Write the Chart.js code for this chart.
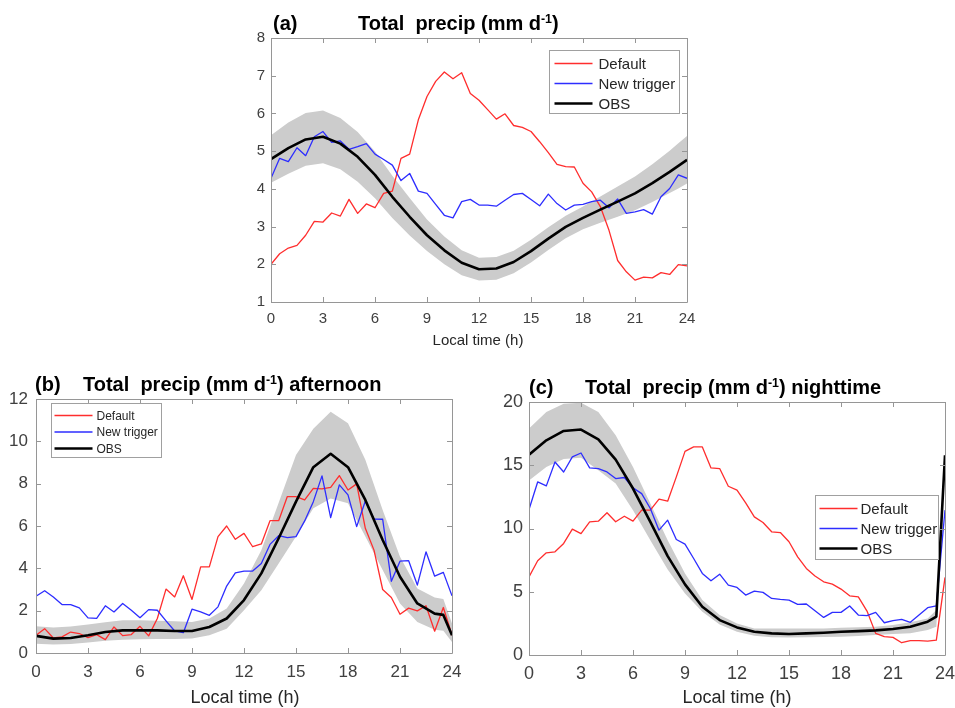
<!DOCTYPE html>
<html>
<head>
<meta charset="utf-8">
<script src="https://cdn.jsdelivr.net/npm/chart.js@4.4.1/dist/chart.umd.min.js"></script>
<style>
body { margin: 0; background: #fff; overflow: hidden; font-family: 'Liberation Sans', Arial, sans-serif; }
#fig { position: relative; width: 955px; height: 708px; }
.box { position: absolute; }
.txt { position: absolute; white-space: pre; color: #000; line-height: 1; z-index: 2; }
.ttl { font-weight: bold; }
.sup { font-size: 0.62em; position: relative; top: -0.6em; }
.xl { color: #262626; transform: translateX(-50%); }
</style>
</head>
<body>
<div id="fig">
  <div class="txt ttl" style="left:273px;top:13px;font-size:20px">(a)</div>
  <div class="txt ttl" style="left:358px;top:13px;font-size:20px">Total  precip (mm d<span class="sup">-1</span>)</div>
  <div class="txt xl" style="left:478px;top:332px;font-size:15px">Local time (h)</div>

  <div class="txt ttl" style="left:35px;top:374px;font-size:20px">(b)</div>
  <div class="txt ttl" style="left:83px;top:374px;font-size:20px">Total  precip (mm d<span class="sup">-1</span>) afternoon</div>
  <div class="txt xl" style="left:245px;top:688px;font-size:18px">Local time (h)</div>

  <div class="txt ttl" style="left:529px;top:377px;font-size:20px">(c)</div>
  <div class="txt ttl" style="left:585px;top:377px;font-size:20px">Total  precip (mm d<span class="sup">-1</span>) nighttime</div>
  <div class="txt xl" style="left:737px;top:688px;font-size:18px">Local time (h)</div>

  <div class="box" style="left:231px;top:29px;width:470px;height:323px"><canvas id="chartA"></canvas></div>
  <div class="box" style="left:0px;top:388px;width:466px;height:315px"><canvas id="chartB"></canvas></div>
  <div class="box" style="left:489px;top:391px;width:466px;height:314px"><canvas id="chartC"></canvas></div>
</div>
<script>
// model output every half hour, OBS hourly (plus 23.5)
const hours = [0, 0.5, 1, 1.5, 2, 2.5, 3, 3.5, 4, 4.5, 5, 5.5, 6, 6.5, 7, 7.5, 8, 8.5, 9, 9.5,
    10, 10.5, 11, 11.5, 12, 12.5, 13, 13.5, 14, 14.5, 15, 15.5, 16, 16.5, 17, 17.5, 18, 18.5, 19, 19.5,
    20, 20.5, 21, 21.5, 22, 22.5, 23, 23.5, 24]
const obsHours = [0, 1, 2, 3, 4, 5, 6, 7, 8, 9, 10, 11, 12, 13, 14, 15, 16, 17, 18, 19, 20, 21, 22, 23, 23.5, 24]
const legendNames = ['Default', 'New trigger', 'OBS']

// (a) total
const aDefault = [2.0, 2.28, 2.43, 2.5, 2.77, 3.14, 3.12, 3.36, 3.28, 3.72, 3.35, 3.6, 3.5, 3.88, 3.94, 4.81, 4.92, 5.83, 6.45, 6.85,
    7.1, 6.92, 7.08, 6.53, 6.35, 6.1, 5.85, 5.99, 5.68, 5.63, 5.52, 5.25, 4.96, 4.65, 4.59, 4.58, 4.15, 3.92, 3.53, 2.9,
    2.1, 1.8, 1.58, 1.66, 1.64, 1.78, 1.73, 1.99, 1.96]
const aTrigger = [4.28, 4.81, 4.72, 5.09, 4.88, 5.38, 5.52, 5.23, 5.27, 5.05, 5.12, 5.2, 4.92, 4.78, 4.63, 4.22, 4.41, 3.94, 3.88, 3.59,
    3.3, 3.23, 3.66, 3.72, 3.57, 3.57, 3.54, 3.7, 3.85, 3.88, 3.72, 3.55, 3.86, 3.61, 3.44, 3.57, 3.59, 3.66, 3.7, 3.5,
    3.73, 3.35, 3.39, 3.45, 3.33, 3.79, 4.01, 4.37, 4.28]
const aObs = [4.79, 5.08, 5.31, 5.38, 5.2, 4.85, 4.37, 3.79, 3.26, 2.77, 2.37, 2.04, 1.87, 1.89, 2.06, 2.35, 2.68, 2.99, 3.23, 3.45, 3.66, 3.88, 4.15, 4.45, 4.61, 4.77]
const aObsHi = [5.42, 5.76, 6.01, 6.08, 5.88, 5.51, 4.99, 4.35, 3.76, 3.19, 2.74, 2.37, 2.17, 2.19, 2.36, 2.65, 2.98, 3.29, 3.53, 3.8, 4.06, 4.33, 4.65, 5.01, 5.21, 5.4]
const aObsLo = [4.16, 4.4, 4.61, 4.68, 4.52, 4.19, 3.75, 3.23, 2.76, 2.35, 2.0, 1.71, 1.57, 1.59, 1.76, 2.05, 2.38, 2.69, 2.93, 3.1, 3.26, 3.43, 3.65, 3.89, 4.01, 4.14]

// (b) afternoon
const bDefault = [0.84, 1.15, 0.71, 0.76, 0.99, 0.92, 0.73, 0.87, 0.63, 1.23, 0.82, 0.87, 1.26, 0.81, 1.63, 3.02, 2.65, 3.65, 2.53, 4.07,
    4.07, 5.5, 6.0, 5.37, 5.65, 5.02, 5.15, 6.25, 6.25, 7.39, 7.39, 7.23, 7.78, 7.75, 7.83, 8.38, 7.7, 7.99, 5.89, 4.86,
    3.0, 2.62, 1.83, 2.12, 1.99, 2.23, 1.03, 2.15, 0.84]
const bTrigger = [2.68, 2.94, 2.65, 2.29, 2.29, 2.13, 1.66, 1.64, 2.23, 1.94, 2.34, 2.02, 1.67, 2.05, 2.02, 1.52, 1.04, 0.96, 2.07, 1.94,
    1.78, 2.18, 3.16, 3.79, 3.87, 3.87, 4.23, 5.13, 5.54, 5.45, 5.5, 6.24, 7.15, 8.37, 6.4, 7.94, 7.47, 5.97, 7.18, 6.33,
    6.32, 3.39, 4.34, 4.36, 3.21, 4.78, 3.63, 3.81, 2.7]
const bObs = [0.81, 0.68, 0.71, 0.84, 0.99, 1.07, 1.07, 1.07, 1.04, 1.04, 1.23, 1.63, 2.5, 3.76, 5.42, 7.15, 8.78, 9.41, 8.78, 7.23, 5.34, 3.6, 2.34, 1.86, 1.8, 0.84]
const bObsHi = [1.26, 1.2, 1.25, 1.35, 1.45, 1.55, 1.55, 1.52, 1.5, 1.47, 1.63, 2.1, 3.28, 4.86, 7.1, 9.36, 10.6, 11.4, 10.86, 9.13, 6.76, 4.55, 3.05, 2.62, 2.55, 1.39]
const bObsLo = [0.44, 0.4, 0.42, 0.5, 0.58, 0.63, 0.65, 0.66, 0.66, 0.68, 0.84, 1.15, 2.02, 2.97, 4.23, 5.5, 6.84, 7.3, 7.07, 5.5, 3.92, 2.34, 1.47, 1.1, 1.05, 0.52]

// (c) nighttime
const cDefault = [6.18, 7.45, 8.08, 8.16, 8.82, 9.95, 9.6, 10.53, 10.58, 11.24, 10.53, 10.97, 10.58, 11.45, 11.45, 12.32, 12.16, 14.08, 16.1, 16.45,
    16.45, 14.79, 14.74, 13.34, 13.03, 12.03, 10.92, 10.47, 9.74, 9.68, 8.95, 7.76, 6.84, 6.24, 5.79, 5.6, 5.21, 4.68, 4.6, 3.47,
    1.71, 1.45, 1.39, 0.97, 1.13, 1.13, 1.1, 1.18, 6.13]
const cTrigger = [11.5, 13.68, 13.37, 15.26, 14.47, 15.66, 15.97, 14.79, 14.74, 14.47, 13.95, 14.03, 13.21, 12.76, 11.58, 9.87, 10.66, 9.13, 8.76, 7.63,
    6.45, 5.87, 6.39, 5.53, 5.34, 4.74, 5.05, 4.95, 4.47, 4.39, 4.34, 4.0, 4.03, 3.5, 2.97, 3.37, 3.37, 3.87, 3.16, 3.11,
    3.37, 2.55, 2.71, 2.82, 2.58, 3.16, 3.74, 3.89, 11.45]
const cObs = [15.84, 16.97, 17.71, 17.82, 17.05, 15.45, 13.16, 10.53, 7.82, 5.58, 3.82, 2.76, 2.18, 1.84, 1.71, 1.66, 1.71, 1.76, 1.84, 1.89, 1.95, 2.05, 2.24, 2.63, 3.03, 15.79]
const cObsHi = [17.9, 19.2, 19.87, 19.95, 19.2, 17.37, 14.87, 11.97, 9.08, 6.45, 4.34, 3.16, 2.5, 2.1, 2.1, 2.1, 2.1, 2.1, 2.15, 2.2, 2.24, 2.37, 2.58, 2.89, 3.55, 15.79]
const cObsLo = [13.8, 14.87, 15.5, 15.6, 14.6, 13.55, 11.45, 9.08, 6.76, 4.87, 3.42, 2.42, 1.84, 1.53, 1.4, 1.38, 1.4, 1.42, 1.45, 1.5, 1.58, 1.66, 1.71, 1.97, 2.24, 15.79]

const red = 'rgb(255,45,45)'
const blue = 'rgb(45,45,255)'
const band = '#cccccc'
const axisGray = '#969696'
const tickText = '#404040'
const fontFam = "'Liberation Sans', Arial, sans-serif"

function pts(xs, ys) {
    return xs.map((x, i) => ({x: x, y: ys[i]}))
}

// MATLAB style box with inward ticks, plus the legend inside the axes
const boxPlugin = {
    id: 'matlabBox',
    afterDraw(chart, args, o) {
        const ctx = chart.ctx
        const a = chart.chartArea
        const sx = chart.scales.x, sy = chart.scales.y
        ctx.save()
        ctx.strokeStyle = axisGray
        ctx.lineWidth = 1
        ctx.beginPath()
        ctx.rect(Math.round(a.left) + 0.5, Math.round(a.top) + 0.5, Math.round(a.right - a.left), Math.round(a.bottom - a.top))
        const tl = 5
        sx.ticks.forEach(t => {
            const x = Math.round(sx.getPixelForValue(t.value)) + 0.5
            ctx.moveTo(x, a.bottom); ctx.lineTo(x, a.bottom - tl)
            ctx.moveTo(x, a.top); ctx.lineTo(x, a.top + tl)
        })
        sy.ticks.forEach(t => {
            const y = Math.round(sy.getPixelForValue(t.value)) + 0.5
            ctx.moveTo(a.left, y); ctx.lineTo(a.left + tl, y)
            ctx.moveTo(a.right, y); ctx.lineTo(a.right - tl, y)
        })
        ctx.stroke()

        // legend
        const L = o.legend
        const bx = Math.round(a.left + L.x) + 0.5, by = Math.round(a.top + L.y) + 0.5
        ctx.fillStyle = '#fff'
        ctx.fillRect(bx, by, L.w, L.h)
        ctx.strokeStyle = '#a0a0a0'
        ctx.strokeRect(bx, by, L.w, L.h)
        const colors = [red, blue, '#000']
        const widths = [1.3, 1.3, 2.6]
        ctx.font = L.font + 'px ' + fontFam
        ctx.textBaseline = 'middle'
        legendNames.forEach((name, i) => {
            const y = by + L.rowY + i * L.rowH
            ctx.strokeStyle = colors[i]
            ctx.lineWidth = widths[i]
            ctx.beginPath()
            ctx.moveTo(bx + L.lineX, y)
            ctx.lineTo(bx + L.lineX + L.lineLen, y)
            ctx.stroke()
            ctx.fillStyle = '#262626'
            ctx.fillText(name, bx + L.textX, y + 1)
        })
        ctx.restore()
    }
}

function makeChart(id, p) {
    new Chart(document.getElementById(id), {
        type: 'line',
        data: {
            datasets: [
            {
                label: 'obs range',
                data: pts(obsHours, p.hi),
                fill: '+1',
                backgroundColor: band,
                borderColor: 'rgba(0,0,0,0)',
                borderWidth: 0,
                pointRadius: 0,
                order: 5,
            },
            {
                label: 'obs range low',
                data: pts(obsHours, p.lo),
                fill: false,
                borderColor: 'rgba(0,0,0,0)',
                borderWidth: 0,
                pointRadius: 0,
                order: 5,
            },
            {
                label: legendNames[0],
                data: pts(hours, p.def),
                borderColor: red,
                borderWidth: 1.3,
                pointRadius: 0,
                order: 3,
            },
            {
                label: legendNames[1],
                data: pts(hours, p.trig),
                borderColor: blue,
                borderWidth: 1.3,
                pointRadius: 0,
                order: 2,
            },
            {
                label: legendNames[2],
                data: pts(obsHours, p.obs),
                borderColor: '#000',
                borderWidth: 2.6,
                pointRadius: 0,
                order: 1,
            }
            ]
        },
        options: {
            responsive: true,
            maintainAspectRatio: false,
            animation: false,
            events: [],
            elements: { line: { tension: 0, borderJoinStyle: 'round' } },
            layout: { padding: { top: p.padTop, right: p.padRight, left: 0, bottom: 0 } },
            plugins: {
                legend: { display: false },
                tooltip: { enabled: false },
                matlabBox: { legend: p.legend },
            },
            scales: {
                x: {
                    type: 'linear', min: 0, max: 24,
                    grid: { display: false, drawTicks: false },
                    border: { display: false },
                    ticks: { stepSize: 3, maxRotation: 0, autoSkip: false, color: tickText, padding: p.xPad,
                        font: { family: fontFam, size: p.tickSize } },
                    afterFit: s => { s.height = 50; s.paddingLeft = 0; s.paddingRight = 0 },
                },
                y: {
                    min: p.yMin, max: p.yMax,
                    grid: { display: false, drawTicks: false },
                    border: { display: false },
                    ticks: { stepSize: p.yStep, color: tickText, padding: p.yPad,
                        font: { family: fontFam, size: p.tickSize } },
                    afterFit: s => { s.width = p.yW; s.paddingTop = 0; s.paddingBottom = 0 },
                }
            }
        },
        plugins: [boxPlugin]
    })
}

makeChart('chartA', {
    def: aDefault, trig: aTrigger, obs: aObs, hi: aObsHi, lo: aObsLo,
    yMin: 1, yMax: 8, yStep: 1, tickSize: 15, xPad: 8, yPad: 6, yW: 40, padTop: 9, padRight: 14,
    legend: { x: 278, y: 12, w: 130, h: 63, font: 15, rowY: 13, rowH: 20, lineX: 5, lineLen: 38, textX: 49 }
})
makeChart('chartB', {
    def: bDefault, trig: bTrigger, obs: bObs, hi: bObsHi, lo: bObsLo,
    yMin: 0, yMax: 12, yStep: 2, tickSize: 17, xPad: 9, yPad: 8, yW: 36, padTop: 11, padRight: 14,
    legend: { x: 15, y: 4, w: 110, h: 54, font: 12, rowY: 12, rowH: 16.5, lineX: 3, lineLen: 38, textX: 45 }
})
makeChart('chartC', {
    def: cDefault, trig: cTrigger, obs: cObs, hi: cObsHi, lo: cObsLo,
    yMin: 0, yMax: 20, yStep: 5, tickSize: 18, xPad: 8, yPad: 6, yW: 40, padTop: 11, padRight: 10,
    legend: { x: 286, y: 93, w: 123, h: 64, font: 15, rowY: 13, rowH: 20, lineX: 4, lineLen: 38, textX: 45 }
})
</script>
</body>
</html>
